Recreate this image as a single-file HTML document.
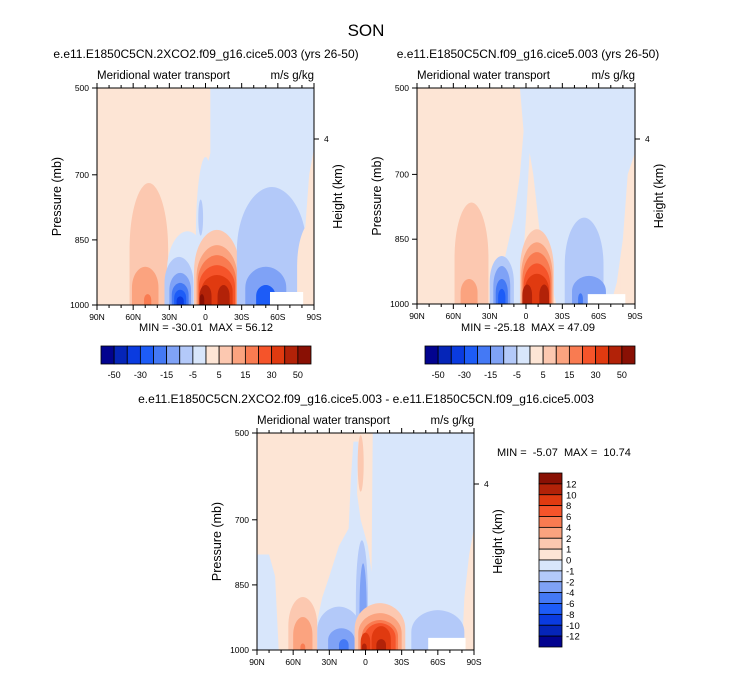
<!DOCTYPE html>
<html><head><meta charset="utf-8"><style>
html,body{margin:0;padding:0;background:#fff;}
svg{display:block;font-family:"Liberation Sans",Arial,sans-serif;}
svg text{white-space:pre;}
</style></head><body>
<svg id="fig" width="733" height="673" viewBox="0 0 733 673" xmlns="http://www.w3.org/2000/svg">
<text x="366" y="36" text-anchor="middle" font-size="17">SON</text>
</svg>
<script>
// shade colours for the 16 contour intervals
const colors = ["#02038f","#0525b8","#0a3be0","#1d5cf7","#4479f5","#7fa2f6","#b3c9f9","#d8e6fb","#fde5d5","#fcc8b0","#fba37f","#f97b51","#f5542a","#e03a10","#b22208","#891004"];
const latTicks = [90,60,30,0,-30,-60,-90];
const latTickLabels = ["90N","60N","30N","0","30S","60S","90S"];
const latMinor = [80,70,50,40,20,10,-10,-20,-40,-50,-70,-80];
const presTicks = [500,700,850,1000];
const topBarLabels = ["-50","-30","-15","-5","5","15","30","50"];
const diffBarLabels = ["12","10","8","6","4","2","1","0","-1","-2","-4","-6","-8","-10","-12"];

// contour blobs: [lat centre, half width (deg), top pressure, bottom pressure, colour level]
const blobsA = [
 [47,16,719,1000,9],[50,11,912,1000,10],[48,3,975,1000,11],
 [15,17,830,1000,7],[0,8,659,1000,7],
 [22,12,889,1000,6],[21,9,926,1000,5],[21,7,949,1000,4],[21,5,965,1000,3],[21,3,980,1000,2],
 [4,2,757,840,6],
 [-9.5,19,827,1000,9],[-9.5,17,862,1000,10],[-9.5,16,885,1000,11],[-9.5,15,908,1000,12],[-9.5,13,931,1000,13],
 [0,5,954,1000,14],[-15,5,954,1000,14],[3,2,975,1000,15],
 [-55,29,728,1000,6],[-50,17,912,1000,5],[-50,8,954,1000,3],
 [-90,14,804,1000,8]
];
const blobsB = [
 [45,14,765,1000,9],[47,7,942,1000,10],
 [20,10,889,1000,6],[20,7,912,1000,5],[20,5,942,1000,4],[20,3,965,1000,3],
 [-9,14,827,1000,9],[-9,13,857,1000,10],[-9,12,880,1000,11],[-9,11,906,1000,12],[-9,10,930,1000,13],
 [-1,4,955,1000,14],[-15,4,955,1000,14],
 [-48,16,800,1000,6],[-52,14,935,1000,5],[-45,2,975,1000,4],
 [-90,12,840,1000,8]
];
const blobsC = [
 [52,12,878,1000,9],[52,8,924,1000,10],[52,2,985,1000,11],
 [4,2.5,505,635,9],
 [3,5,747,1000,6],[2,3,800,1000,5],
 [22,18,900,1000,6],[20,11,950,1000,5],[18,4,975,1000,4],
 [-12,21,892,1000,9],[-12,18,915,1000,10],[-12,15,931,1000,11],[-12,13,938,1000,12],
 [0,4,960,1000,13],[-13,8,945,1000,13],[1,2,985,1000,14],[-13,4,975,1000,14],
 [-60,22,908,1000,6]
];
// blue background region polygons [lat, pressure]
const blueA = [[-4,500],[-90,500],[-90,640],[-86,700],[-82,850],[-78,1000],[8,1000],[8,900],[6,760],[-4,650]];
const blueB = [[5,500],[-90,500],[-90,650],[-84,700],[-80,850],[-75,950],[-70,1000],[22,1000],[18,900],[10,800],[5,700],[2,600]];
const wedgeB = [[-3,650],[-6,700],[-12,850],[-25,1000],[4,1000],[2,880],[0,800]];
const blueC = [[-6,500],[-90,500],[-90,1000],[42,1000],[42,960],[36,880],[30,830],[22,760],[14,720],[12,600],[10,520],[6,520],[7,640],[4,700],[-2,760],[-5,820]];
const blueC2 = [[90,780],[80,780],[75,830],[72,1000],[90,1000]];
const orangeC = [[-80,1000],[-82,880],[-86,780],[-90,720],[-90,1000]];
const missA = [[-53.5,970],[-81,970],[-81,1000],[-53.5,1000]];
const missB = [[-51,977],[-82,977],[-82,1000],[-51,1000]];
const missC = [[-52,972],[-83,972],[-83,1000],[-52,1000]];

const NS="http://www.w3.org/2000/svg";
const svg=document.getElementById('fig');
function mk(tag,attrs,parent){const e=document.createElementNS(NS,tag);for(const k in attrs)e.setAttribute(k,attrs[k]);(parent||svg).appendChild(e);return e;}

function panel(o){
  const X=lat=>o.x0+(90-lat)/180*o.w;
  const Y=p=>o.y0+(p-500)/500*o.h;
  const g=mk('g',{});
  
  
  const cid='clip'+o.name;
  const cp=mk('clipPath',{id:cid},g);
  mk('rect',{x:o.x0,y:o.y0,width:o.w,height:o.h},cp);
  const pg=mk('g',{'clip-path':'url(#'+cid+')'},g);
  const bg=mk('rect',{x:o.x0,y:o.y0,width:o.w,height:o.h,fill:colors[8]},pg);
  
  
  function poly(pts,fill,name){
    const e=mk('polygon',{points:pts.map(q=>X(q[0])+','+Y(q[1])).join(' '),fill:fill},pg);
    
    
  }
  o.polys.forEach(pp=>poly(pp[0],pp[1],pp[2]));
  o.blobs.forEach(b=>{
    const xl=X(b[0]+b[1]),xr=X(b[0]-b[1]),yt=Y(b[2]),yb=Y(b[3]);
    const cx=(xl+xr)/2,rx=(xr-xl)/2,H=yb-yt;
    let d;
    if(b[3]>=1000){
      d=`M${xl},${yb+2} L${xl},${yt+0.55*H} C${xl},${yt+0.2*H} ${cx-0.45*rx},${yt} ${cx},${yt} C${cx+0.45*rx},${yt} ${xr},${yt+0.2*H} ${xr},${yt+0.55*H} L${xr},${yb+2} Z`;
    } else {
      const cy=(yt+yb)/2,ry=H/2;
      d=`M${cx-rx},${cy} A${rx},${ry} 0 1 0 ${cx+rx},${cy} A${rx},${ry} 0 1 0 ${cx-rx},${cy} Z`;
    }
    const e=mk('path',{d:d,fill:colors[b[4]]},pg);
    
    
  });
  poly(o.miss,'#ffffff','missing-data');
  mk('rect',{x:o.x0,y:o.y0,width:o.w,height:o.h,fill:'none',stroke:'#000','stroke-width':1},g);
  latTicks.forEach((l,i)=>{
    const x=X(l);
    mk('line',{x1:x,y1:o.y0+o.h,x2:x,y2:o.y0+o.h+5,stroke:'#000'},g);
    mk('line',{x1:x,y1:o.y0,x2:x,y2:o.y0-5,stroke:'#000'},g);
    const t=mk('text',{x:x,y:o.y0+o.h+15,'text-anchor':'middle','font-size':8.5},g);
    t.textContent=latTickLabels[i];
    
    
  });
  latMinor.forEach(l=>{
    const x=X(l);
    mk('line',{x1:x,y1:o.y0+o.h,x2:x,y2:o.y0+o.h+3,stroke:'#000'},g);
    mk('line',{x1:x,y1:o.y0,x2:x,y2:o.y0-3,stroke:'#000'},g);
  });
  presTicks.forEach(p=>{
    const y=Y(p);
    mk('line',{x1:o.x0-5,y1:y,x2:o.x0,y2:y,stroke:'#000'},g);
    const t=mk('text',{x:o.x0-8,y:y+3,'text-anchor':'end','font-size':8.5},g);
    t.textContent=p;
    
    
  });
  const yh=o.y0+51;
  mk('line',{x1:o.x0+o.w,y1:yh,x2:o.x0+o.w+5,y2:yh,stroke:'#000'},g);
  const h4=mk('text',{x:o.x0+o.w+10,y:yh+3,'font-size':8.5},g);h4.textContent='4';
  
  
  const yt=mk('text',{x:0,y:0,'text-anchor':'middle','font-size':12.5,transform:`translate(${o.x0-36},${o.y0+o.h/2}) rotate(-90)`},g);
  yt.textContent='Pressure (mb)';
  
  
  const ht=mk('text',{x:0,y:0,'text-anchor':'middle','font-size':12.5,transform:`translate(${o.x0+o.w+28},${o.y0+o.h/2}) rotate(-90)`},g);
  ht.textContent='Height (km)';
  
  
  const tt=mk('text',{x:o.tx,y:o.y0-30,'text-anchor':'middle','font-size':12},g);
  tt.textContent=o.title;
  
  
  const ls=mk('text',{x:o.x0,y:o.y0-9,'font-size':11.5},g);ls.textContent='Meridional water transport';
  
  
  const rs=mk('text',{x:o.x0+o.w,y:o.y0-9,'font-size':11.5,'text-anchor':'end'},g);rs.textContent='m/s g/kg';
  
  
  const mm=mk('text',{x:o.mx,y:o.my,'text-anchor':o.manchor,'font-size':11},g);mm.textContent=o.minmax;
  
  
}

function hbar(x0,y0,w,h,name){
  const g=mk('g',{});
  
  
  const bw=w/colors.length;
  colors.forEach((c,i)=>{
    const r=mk('rect',{x:x0+i*bw,y:y0,width:bw,height:h,fill:c,stroke:'#000','stroke-width':0.8},g);
    
    
  });
  topBarLabels.forEach((l,i)=>{
    const t=mk('text',{x:x0+(1+2*i)*bw,y:y0+h+14,'text-anchor':'middle','font-size':9},g);
    t.textContent=l;
    
    
  });
}
function vbar(x0,y0,w,h){
  const g=mk('g',{});
  
  
  const bh=h/colors.length;
  colors.slice().reverse().forEach((c,i)=>{
    const r=mk('rect',{x:x0,y:y0+i*bh,width:w,height:bh,fill:c,stroke:'#000','stroke-width':0.8},g);
    
    
  });
  diffBarLabels.forEach((l,i)=>{
    const t=mk('text',{x:x0+w+4,y:y0+(i+1)*bh+3.5,'font-size':9.5},g);
    t.textContent=l;
    
    
  });
}

panel({name:'panel-2xco2',x0:97,y0:88,w:217,h:217,tx:206,title:'e.e11.E1850C5CN.2XCO2.f09_g16.cice5.003 (yrs 26-50)',
  blobs:blobsA,polys:[[blueA,colors[7],'negative-region']],miss:missA,minmax:'MIN = -30.01  MAX = 56.12',mx:206,my:331,manchor:'middle'});
panel({name:'panel-control',x0:417,y0:88,w:218,h:216,tx:528,title:'e.e11.E1850C5CN.f09_g16.cice5.003 (yrs 26-50)',
  blobs:blobsB,polys:[[blueB,colors[7],'negative-region'],[wedgeB,colors[8],'positive-wedge']],miss:missB,minmax:'MIN = -25.18  MAX = 47.09',mx:528,my:331,manchor:'middle'});
panel({name:'panel-difference',x0:257,y0:433,w:217,h:217,tx:366,title:'e.e11.E1850C5CN.2XCO2.f09_g16.cice5.003 - e.e11.E1850C5CN.f09_g16.cice5.003',
  blobs:blobsC,polys:[[blueC,colors[7],'negative-region'],[blueC2,colors[7],'negative-region'],[orangeC,colors[8],'positive-region']],miss:missC,minmax:'MIN =  -5.07  MAX =  10.74',mx:497,my:456,manchor:'start'});
hbar(101,346,210,18,'colorbar-left');
hbar(425,346,210,18,'colorbar-right');
vbar(539,473,23,174);
</script>
</body></html>
